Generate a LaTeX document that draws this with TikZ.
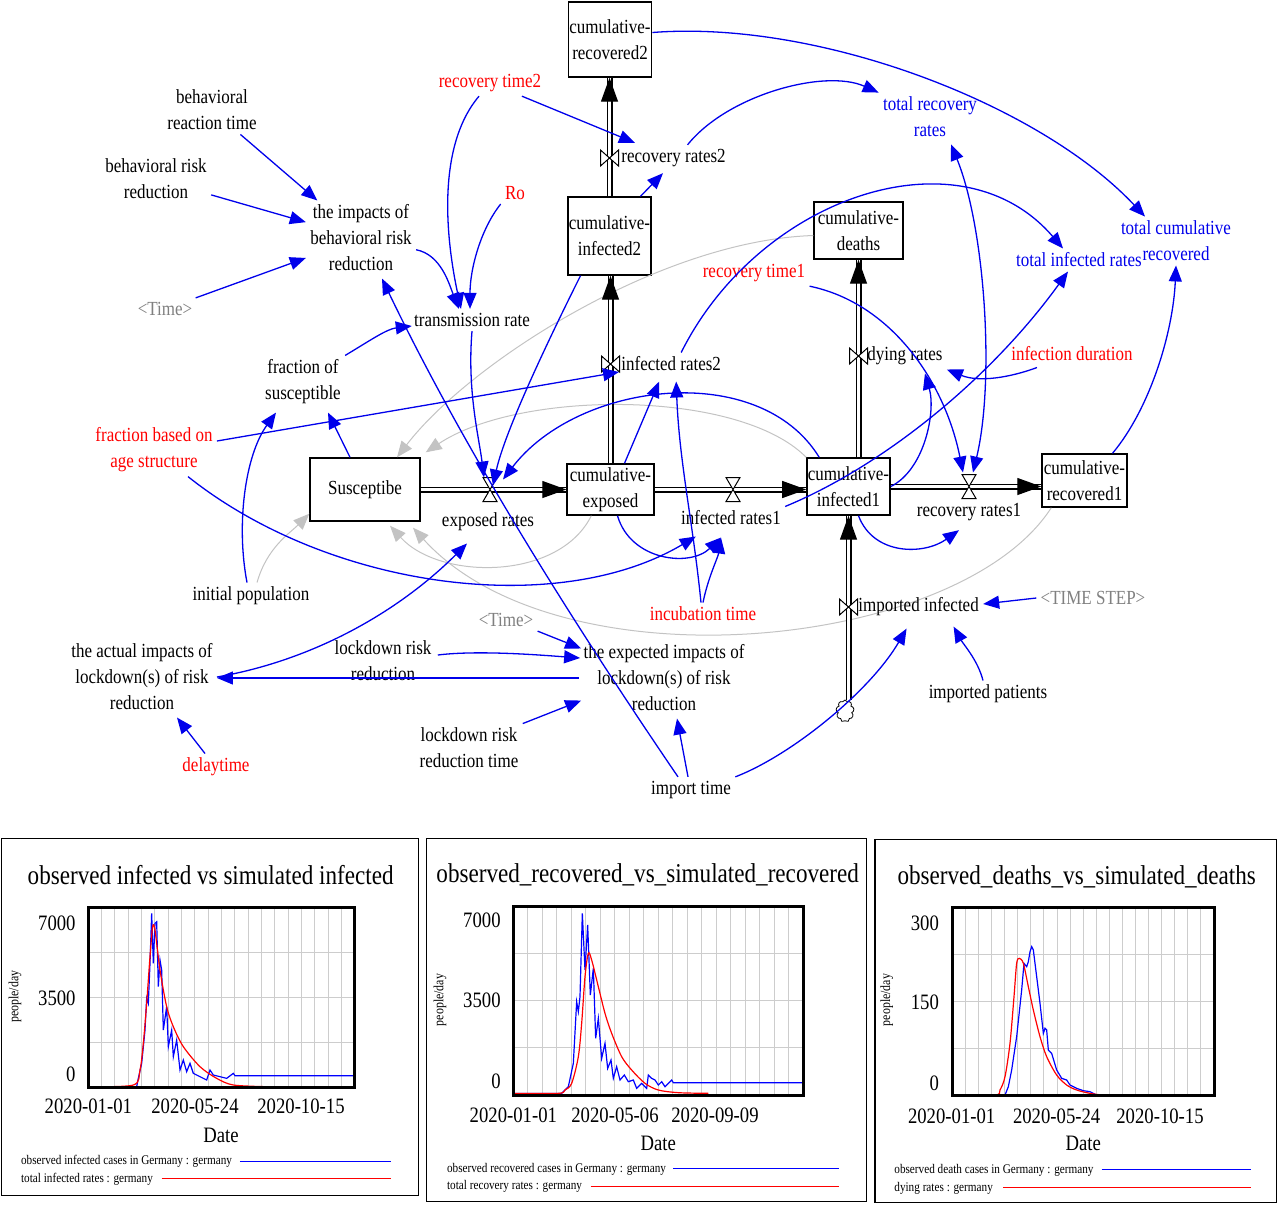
\documentclass[tikz,border=0pt]{standalone}
\usepackage{fontspec}
\setmainfont{Liberation Serif}[FakeStretch=0.85]
\usetikzlibrary{positioning}
\usetikzlibrary{calc}
\usetikzlibrary{arrows.meta}
\usetikzlibrary{shapes.symbols}
\definecolor{linkblue}{RGB}{0,0,235}
\definecolor{shadowgray}{RGB}{128,128,128}
\definecolor{linkgray}{RGB}{195,195,195}
\definecolor{gridgray}{RGB}{205,205,205}
\tikzset{
    aux/.style = {align=center, inner sep=2pt, font=\fontsize{10}{13}\selectfont},
    const/.style = {aux, text=red},
    total/.style = {aux, text=linkblue},
    shadow/.style = {aux, text=shadowgray},
    stock/.style = {draw, line width=0.7pt, align=center, inner sep=0.5pt, font=\fontsize{10}{13}\selectfont},
    pipe/.style = {draw, double, line width=0.6pt, double distance=1.8pt},
    pipehead/.style = {-{Triangle[length=12pt,width=8.5pt]}, line width=0.6pt},
    link/.style = {draw=linkblue, line width=0.65pt, -{Triangle[length=8pt,width=6.5pt]}},
    linkboth/.style = {link, {Triangle[length=8pt,width=6.5pt]}-{Triangle[length=8pt,width=6.5pt]}},
    graylink/.style = {draw=linkgray, line width=0.5pt, -{Triangle[length=8pt,width=6.5pt]}},
    valveH/.pic = {\draw[fill=white, line width=0.5pt] (-7,-12) -- (7,-12) -- (-7,12) -- (7,12) -- cycle;},
    valveV/.pic = {\draw[fill=white, line width=0.5pt] (-9,-8) -- (-9,8) -- (9,-8) -- (9,8) -- cycle;},
    panel/.style = {line width=0.8pt},
    chartframe/.style = {line width=1.5pt},
    gridline/.style = {draw=gridgray, line width=0.5pt},
    obsline/.style = {draw=blue, line width=0.6pt},
    simline/.style = {draw=red, line width=0.6pt},
    keyline/.style = {line width=0.5pt},
    ctitle/.style = {inner sep=0pt, font=\fontsize{13.6}{16}\selectfont},
    ctick/.style = {inner sep=0pt, font=\fontsize{11}{13}\selectfont},
    cunit/.style = {inner sep=0pt, rotate=90, font=\fontsize{7}{8}\selectfont},
    clegend/.style = {inner sep=0pt, anchor=west, font=\fontsize{6.6}{8}\selectfont}}
\begin{document}
\begin{tikzpicture}[x=0.5pt,y=-0.5pt]
\useasboundingbox (0,0) rectangle (1280,1207);
\node[stock, minimum width=41pt, minimum height=37.5pt] (rec2) at (610,39.5) {cumulative-\\recovered2};
\node[stock, minimum width=41.5pt, minimum height=39pt] (inf2) at (609.5,236) {cumulative-\\infected2};
\node[stock, minimum width=44.5pt, minimum height=28.5pt] (deaths) at (858.5,230.5) {cumulative-\\deaths};
\node[stock, minimum width=55pt, minimum height=31.5pt] (susc) at (365,489.5) {Susceptibe};
\node[stock, minimum width=43.5pt, minimum height=25.5pt] (expo) at (610.5,489.5) {cumulative-\\exposed};
\node[stock, minimum width=41.5pt, minimum height=28.5pt] (inf1) at (848.5,486.5) {cumulative-\\infected1};
\node[stock, minimum width=42.5pt, minimum height=26.5pt] (rec1) at (1084.5,480.5) {cumulative-\\recovered1};
\node[cloud, draw, line width=0.4pt, cloud puffs=9, aspect=1, minimum width=9pt, minimum height=11pt, inner sep=0pt] (cloud) at (845,711) {};

\node[aux] (bReact) at (212,110) {behavioral\\reaction time};
\node[aux] (bRisk) at (156,179) {behavioral risk\\reduction};
\node[aux] (impacts) at (361,238) {the impacts of\\behavioral risk\\reduction};
\node[shadow] (timeA) at (165,309) {<Time>};
\node[const] (recT2) at (490,83) {recovery time2};
\node[const] (Ro) at (515,193) {Ro};
\node[aux] (trans) at (472,320) {transmission rate};
\node[aux] (fracS) at (303,382) {fraction of\\susceptible};
\node[const] (fracAge) at (154,450) {fraction based on\\age structure};
\node[aux] (initPop) at (251,596) {initial population};
\node[aux] (actual) at (142,677) {the actual impacts of\\lockdown(s) of risk\\reduction};
\node[const] (delay) at (216,767) {delaytime};
\node[aux] (lockR) at (383,661) {lockdown risk\\reduction};
\node[shadow] (timeB) at (506,620) {<Time>};
\node[aux] (expected) at (664,678) {the expected impacts of\\lockdown(s) of risk\\reduction};
\node[aux] (lockT) at (469,748) {lockdown risk\\reduction time};
\node[aux] (importT) at (691,790) {import time};
\node[const] (incub) at (703,614) {incubation time};
\node[const] (recT1) at (754,273) {recovery time1};
\node[const] (infDur) at (1072,354) {infection duration};
\node[total] (totRec) at (930,117) {total recovery\\rates};
\node[total] (totInf) at (1079,260) {total infected rates};
\node[total] (totCum) at (1176,241) {total cumulative\\recovered};
\node[shadow] (timeStep) at (1093,598) {<TIME STEP>};
\node[aux] (impPat) at (988,694) {imported patients};

\draw[graylink] ($(initPop.north)+(6,0)$) .. controls +(10,-35) and +(-20,20) .. ($(susc.south west)+(0,-8)$);
\draw[graylink] ($(deaths.west)+(0,5)$) .. controls +(-153,5) and +(73,-95) .. ($(susc.north)+(32,0)$);
\draw[graylink] (inf1.north west) .. controls +(-67,-68) and +(95,-63) .. ($(susc.north east)+(5,-5)$);
\draw[graylink] ($(expo.south west)+(25,0)$) .. controls +(-32,65) and +(50,55) .. ($(susc.south)+(25,4)$);
\draw[graylink] ($(rec1.south west)+(10,0)$) .. controls +(-92,143) and +(147,162) .. ($(susc.south)+(48,6)$);

\coordinate (pInf1) at (expo.east -| inf1.west);
\coordinate (pRec1) at (inf1.east -| rec1.west);
\coordinate (pInf2) at (expo.north |- inf2.south);
\coordinate (pRec2) at (inf2.north |- rec2.south);
\coordinate (pDeathA) at (deaths.south |- inf1.north);
\coordinate (pImp) at (inf1.south |- cloud.north);
\draw[pipe] (susc.east) -- (expo.west);
\draw[pipehead] ($(expo.west)+(-20,0)$) -- (expo.west);
\draw[pipe] (expo.east) -- (pInf1);
\draw[pipehead] ($(pInf1)+(-20,0)$) -- (pInf1);
\draw[pipe] (inf1.east) -- (pRec1);
\draw[pipehead] ($(pRec1)+(-20,0)$) -- (pRec1);
\draw[pipe] (expo.north) -- (pInf2);
\draw[pipehead] ($(pInf2)+(0,20)$) -- (pInf2);
\draw[pipe] (inf2.north) -- (pRec2);
\draw[pipehead] ($(pRec2)+(0,20)$) -- (pRec2);
\draw[pipe] (pDeathA) -- (deaths.south);
\draw[pipehead] ($(deaths.south)+(0,20)$) -- (deaths.south);
\draw[pipe] (pImp) -- (inf1.south);
\draw[pipehead] ($(inf1.south)+(0,20)$) -- (inf1.south);

\coordinate (vExp) at (490,489.5);
\coordinate (vInf1) at (733,489.5);
\coordinate (vRec1) at (969,486.5);
\coordinate (vInf2) at (610.5,364);
\coordinate (vRec2) at (609.5,158);
\coordinate (vDying) at (858.5,356);
\coordinate (vImp) at (848.5,607);
\pic at (vExp) {valveH};
\pic at (vInf1) {valveH};
\pic at (vRec1) {valveH};
\pic at (vInf2) {valveV};
\pic at (vRec2) {valveV};
\pic at (vDying) {valveV};
\pic at (vImp) {valveV};
\node[aux] (lExp) at (488,522) {exposed rates};
\node[aux] (lInf1) at (731,518) {infected rates1};
\node[aux] (lRec1) at (969,512) {recovery rates1};
\node[aux, anchor=west] (lInf2) at (617,364) {infected rates2};
\node[aux, anchor=west] (lRec2) at (617,158) {recovery rates2};
\node[aux, anchor=west] (lDying) at (863,356) {dying rates};
\node[aux, anchor=west] (lImp) at (854,607) {imported infected};

\draw[link] (bReact) -- (impacts);
\draw[link] (bRisk) -- (impacts);
\draw[link] (timeA) -- (impacts);
\draw[link] (impacts.-12) .. controls +(25,5) and +(-10,-25) .. ($(trans.north)+(-13,0)$);
\draw[link] ($(recT2.south)+(-11,0)$) .. controls +(-44,52) and +(-14,-65) .. ($(trans.north)+(-11,0)$);
\draw[link] (Ro.south west) .. controls +(-20,25) and +(0,-40) .. ($(trans.north)+(-2,0)$);
\draw[link] (recT2) -- ($(lRec2.north west)+(18,-2)$);
\draw[link] ($(inf2.north)+(31,0)$) -- ($(lRec2.south west)+(46,2)$);
\draw[link] ($(lRec2.north)+(14,0)$) .. controls +(40,-50) and +(-54,-24) .. (totRec.north west);
\draw[link] ($(rec2.east)+(0,-7)$) .. controls +(167,-13) and +(-105,-112) .. ($(totCum.north)+(-31,0)$);
\draw[link] ($(lInf2.north)+(10,0)$) .. controls +(78,-156) and +(-103,-120) .. ($(totInf.north)+(-16,0)$);
\draw[link] (lInf1.north east) .. controls +(97,-40) and +(-78,108) .. ($(totInf.south)+(-11,0)$);
\draw[linkboth] ($(vRec1)+(4,-14)$) .. controls +(22,-92) and +(34,83) .. ($(totRec.south)+(21,3)$);
\draw[link] ($(rec1.north)+(28,0)$) .. controls +(37,-44) and +(-3,68) .. (totCum.south);
\draw[link] (recT1.south east) .. controls +(82,17) and +(-18,-90) .. ($(vRec1)+(-6,-14)$);
\draw[link] ($(infDur.south west)+(30,2)$) .. controls +(-27,10) and +(32,13) .. (lDying.south east);
\draw[link] (inf1.east) .. controls +(34,-17) and +(11,38) .. ($(lDying.south)+(20,4)$);
\draw[link] ($(inf1.south)+(10,0)$) .. controls +(15,40) and +(-35,25) .. ($(lRec1.south)+(-10,5)$);
\draw[link] ($(expo.south)+(7,0)$) .. controls +(13,45) and +(-31,30) .. ($(lInf1.south)+(-10,8)$);
\draw[link] (incub.north) .. controls +(5,-25) and +(-3,20) .. ($(lInf1.south)+(-10,8)$);
\draw[link] ($(incub.north)+(-2,0)$) .. controls +(-8,-80) and +(3,80) .. ($(lInf2.south)+(5,6)$);
\draw[link] ($(expo.north)+(14,0)$) -- ($(lInf2.south)+(-12,6)$);
\draw[link] ($(fracAge.east)+(0,-9)$) -- ($(lInf2.west)+(2,8)$);
\draw[link] ($(fracAge.south)+(34,0)$) .. controls +(142,113) and +(-138,82) .. ($(lInf1.south west)+(19,7)$);
\draw[link] ($(initPop.north)+(-4,0)$) .. controls +(-11,-58) and +(-31,43) .. ($(fracS.south)+(-27,4)$);
\draw[link] ($(susc.north)+(-15,0)$) -- ($(fracS.south)+(25,4)$);
\draw[link] (fracS.north east) .. controls +(25,-15) and +(-25,3) .. ($(trans.west)+(2,6)$);
\draw[link] (trans.south) .. controls +(-5,60) and +(-5,-40) .. ($(vExp)+(-6,-12)$);
\draw[link] ($(inf2.south)+(-29,0)$) .. controls +(-30,60) and +(12,-55) .. ($(vExp)+(3,-4)$);
\draw[link] ($(inf1.north west)+(13,0)$) .. controls +(-60,-98) and +(75,-98) .. ($(vExp)+(13,-10)$);
\draw[link] ($(importT.north)+(-13,0)$) .. controls +(-109,-160) and +(80,167) .. ($(impacts.south)+(21,3)$);
\draw[link] (actual.east) .. controls +(98,-17) and +(-67,67) .. ($(lExp.south)+(-21,8)$);
\draw[link] (expected.west) -- (expected.west -| actual.east);
\draw[link] ($(lockR.east)+(2,-6)$) .. controls +(40,-5) and +(-40,-3) .. ($(expected.west)+(1,-20)$);
\draw[link] (timeB.south east) -- ($(expected.north west)+(2,8)$);
\draw[link] (lockT.north east) -- ($(expected.south west)+(2,-15)$);
\draw[link] ($(importT.north)+(-3,0)$) -- ($(expected.south)+(13,3)$);
\draw[link] (importT.north east) .. controls +(57,-22) and +(-36,62) .. ($(lImp.south)+(-12,8)$);
\draw[link] ($(impPat.north)+(-5,0)$) .. controls +(-5,-20) and +(10,18) .. ($(lImp.south)+(35,6)$);
\draw[link] (timeStep.west) -- ($(lImp.east)+(0,-3)$);
\draw[link] ($(delay.north)+(-11,0)$) -- ($(actual.south)+(35,3)$);

\begin{scope}[shift={(0,830)}, scale=1/3]
\draw[panel] (5,25) rectangle (1255,1097);
\node[ctitle] (tInf) at (632,135) {observed infected vs simulated infected};
\foreach \i in {1,...,19} \draw[gridline] ({265+40*\i},233) -- ({265+40*\i},772);
\foreach \j in {1,2,3} \draw[gridline] (265,{233+134.75*\j}) -- (1065,{233+134.75*\j});
\draw[obsline] plot coordinates {(265,770) (410,770) (415,745) (425,700) (435,600) (440,505) (445,520) (450,400) (455,250) (460,400) (465,280) (470,275) (475,470) (480,390) (485,420) (490,600) (500,530) (505,650) (515,600) (520,680) (530,630) (540,720) (550,690) (560,725) (570,700) (580,730) (600,740) (620,750) (630,720) (640,735) (660,740) (680,745) (700,730) (705,737) (1065,737)};
\draw[simline] plot[smooth] coordinates {(265,770) (400,765) (420,720) (430,640) (440,520) (450,380) (458,290) (465,300) (480,420) (500,530) (520,590) (550,650) (600,710) (650,745) (700,765) (800,770)};
\draw[chartframe] (265,233) rectangle (1065,772);
\node[ctick, anchor=east] (yInfA) at (228,280) {7000};
\node[ctick, anchor=east] (yInfB) at (228,505) {3500};
\node[ctick, anchor=east] (yInfC) at (228,733) {0};
\node[ctick] (xInfA) at (265,830) {2020-01-01};
\node[ctick] (xInfB) at (585,830) {2020-05-24};
\node[ctick] (xInfC) at (903,830) {2020-10-15};
\node[ctick] (dInf) at (663,915) {Date};
\node[cunit] (uInf) at (45,500) {people/day};
\node[clegend] (gInfA) at (62,995) {observed infected cases in Germany : germany};
\node[clegend] (gInfB) at (62,1047) {total infected rates : germany};
\draw[obsline, keyline] (720,993) -- (1172,993);
\draw[simline, keyline] (485,1044) -- (1172,1044);
\end{scope}

\begin{scope}[shift={(425,830)}, scale=1/3]
\draw[panel] (5,25) rectangle (1325,1115);
\node[ctitle] (tRec) at (668,135) {observed\_recovered\_vs\_simulated\_recovered};
\foreach \i in {1,...,19} \draw[gridline] ({265+43.5*\i},230) -- ({265+43.5*\i},795);
\foreach \j in {1,2,3} \draw[gridline] (265,{230+141.25*\j}) -- (1135,{230+141.25*\j});
\draw[obsline] plot coordinates {(265,790) (410,790) (430,770) (445,700) (455,515) (460,545) (465,500) (472,250) (480,420) (488,285) (496,495) (505,415) (512,625) (520,565) (530,685) (540,640) (548,715) (558,690) (565,745) (575,710) (585,750) (598,735) (610,755) (625,750) (635,775) (650,760) (665,775) (670,735) (680,745) (690,750) (700,765) (710,755) (720,770) (730,760) (740,750) (745,758) (1135,758)};
\draw[simline] plot[smooth] coordinates {(265,790) (400,790) (420,780) (440,760) (460,680) (470,580) (480,440) (490,370) (500,390) (520,470) (540,550) (560,610) (590,680) (620,720) (660,760) (700,780) (760,788) (850,790)};
\draw[chartframe] (265,230) rectangle (1135,795);
\node[ctick, anchor=east] (yRecA) at (228,272) {7000};
\node[ctick, anchor=east] (yRecB) at (228,512) {3500};
\node[ctick, anchor=east] (yRecC) at (228,755) {0};
\node[ctick] (xRecA) at (265,855) {2020-01-01};
\node[ctick] (xRecB) at (570,855) {2020-05-06};
\node[ctick] (xRecC) at (870,855) {2020-09-09};
\node[ctick] (dRec) at (700,940) {Date};
\node[cunit] (uRec) at (45,510) {people/day};
\node[clegend] (gRecA) at (65,1017) {observed recovered cases in Germany : germany};
\node[clegend] (gRecB) at (65,1070) {total recovery rates : germany};
\draw[obsline, keyline] (745,1014) -- (1243,1014);
\draw[simline, keyline] (497,1068) -- (1243,1068);
\end{scope}

\begin{scope}[shift={(870,830)}, scale=1/3]
\draw[panel] (15,28) rectangle (1220,1118);
\node[ctitle] (tDea) at (620,140) {observed\_deaths\_vs\_simulated\_deaths};
\foreach \i in {1,...,19} \draw[gridline] ({247+39.25*\i},233) -- ({247+39.25*\i},797);
\foreach \j in {1,2,3} \draw[gridline] (247,{233+141*\j}) -- (1032,{233+141*\j});
\draw[obsline] plot coordinates {(247,795) (405,795) (415,770) (425,720) (440,620) (455,480) (462,400) (470,410) (475,395) (480,365) (485,350) (490,360) (500,440) (510,520) (520,610) (525,595) (530,600) (535,660) (545,670) (560,720) (575,745) (590,750) (600,765) (620,775) (640,782) (660,785) (680,795) (1032,795)};
\draw[simline] plot[smooth] coordinates {(247,795) (375,795) (390,780) (405,740) (420,640) (432,500) (440,400) (448,385) (460,400) (475,470) (490,540) (510,620) (530,680) (560,735) (590,765) (620,780) (660,790) (700,795) (770,796)};
\draw[chartframe] (247,233) rectangle (1032,797);
\node[ctick, anchor=east] (yDeaA) at (208,280) {300};
\node[ctick, anchor=east] (yDeaB) at (208,517) {150};
\node[ctick, anchor=east] (yDeaC) at (208,760) {0};
\node[ctick] (xDeaA) at (245,860) {2020-01-01};
\node[ctick] (xDeaB) at (560,860) {2020-05-24};
\node[ctick] (xDeaC) at (870,860) {2020-10-15};
\node[ctick] (dDea) at (640,940) {Date};
\node[cunit] (uDea) at (50,510) {people/day};
\node[clegend] (gDeaA) at (72,1020) {observed death cases in Germany : germany};
\node[clegend] (gDeaB) at (72,1075) {dying rates : germany};
\draw[obsline, keyline] (695,1017) -- (1142,1017);
\draw[simline, keyline] (400,1071) -- (1142,1071);
\end{scope}
\end{tikzpicture}
\end{document}
